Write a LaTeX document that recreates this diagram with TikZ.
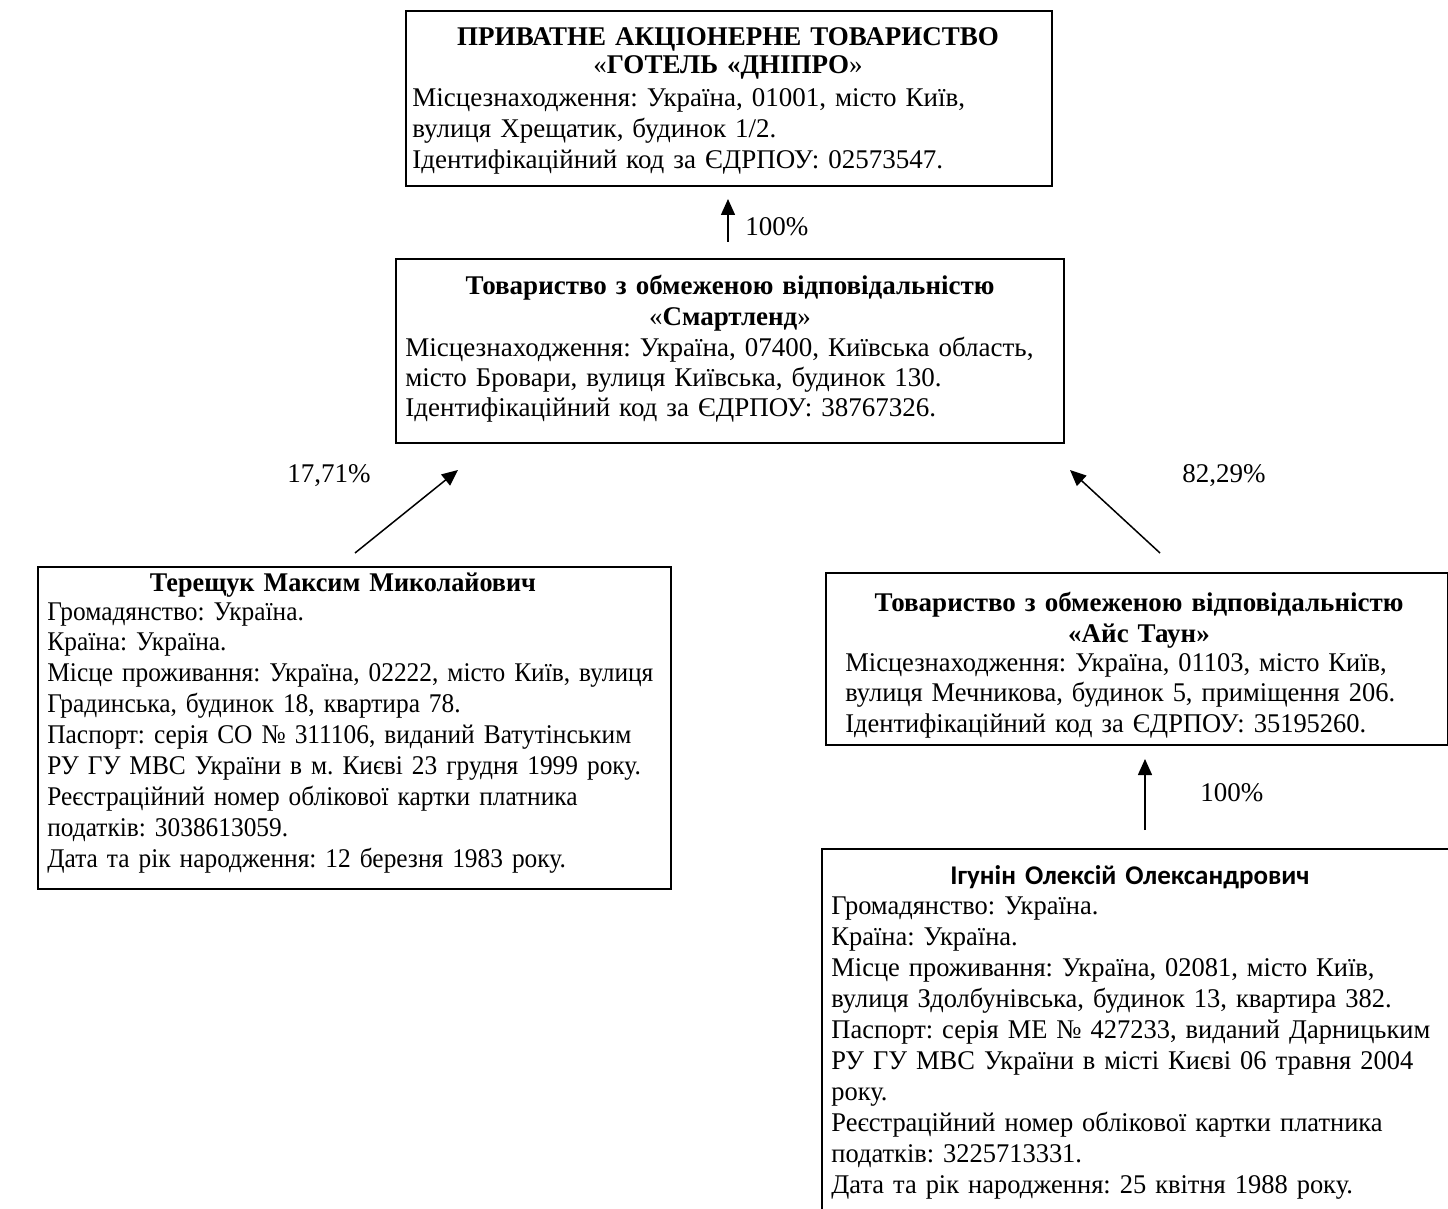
\documentclass[tikz,border=0pt]{standalone}
\usepackage{fontspec}
\setmainfont{Liberation Serif}
\newfontfamily\calibri{Carlito}
\newfontfamily\narrowbody[FakeStretch=0.94]{Liberation Serif}
\newfontfamily\narrowhead[FakeStretch=0.97]{Liberation Serif}
\newfontfamily\slimbody[FakeStretch=0.98]{Liberation Serif}
\usetikzlibrary{arrows.meta,calc}
\begin{document}
\begin{tikzpicture}[x=0.5pt,y=-0.5pt,
  font=\frenchspacing\fontsize{13.5}{15.5}\selectfont,
  frame/.style={draw, line width=1pt, anchor=north west, inner sep=0pt},
  hdr/.style={inner sep=0pt, anchor=base, text width=340pt, align=center},
  body/.style={inner sep=0pt, anchor=base west, text width=340pt, align=left},
  arr/.style={line width=0.75pt, -{Triangle[length=8pt,width=7pt]}},
  pct/.style={inner sep=0pt, anchor=base west}]
\useasboundingbox (0,0) rectangle (1448,1209);

% --- top box
\node[frame, minimum width=323pt, minimum height=87.5pt] (top) at (405,10) {};
\node[hdr, font=\frenchspacing\fontsize{13.5}{14}\selectfont] (toph) at (728,46)
 {\bfseries ПРИВАТНЕ АКЦІОНЕРНЕ ТОВАРИСТВО\\
  \mdseries«\textbf{ГОТЕЛЬ «ДНІПРО}»};
\node[body] (topb) at (412,107)
 {Місцезнаходження: Україна, 01001, місто Київ,\\
  вулиця Хрещатик, будинок 1/2.\\
  Ідентифікаційний код за ЄДРПОУ: 02573547.};

% --- Smartlend
\node[frame, minimum width=334pt, minimum height=92pt] (sm) at (395,258) {};
\node[hdr] (smh) at (730,295)
 {\bfseries Товариство з обмеженою відповідальністю\\
  \mdseries«\textbf{Смартленд}»};
\node[body, font=\frenchspacing\fontsize{13.5}{15}\selectfont] (smb) at (405,357)
 {Місцезнаходження: Україна, 07400, Київська область,\\
  місто Бровари, вулиця Київська, будинок 130.\\
  Ідентифікаційний код за ЄДРПОУ: 38767326.};

% --- Терещук
\node[frame, minimum width=316.5pt, minimum height=161pt] (ter) at (37,566) {};
\node[hdr] (terh) at (343,592) {\narrowhead\bfseries Терещук Максим Миколайович};
\node[body] (terb) at (47,620)
 {\narrowbody Громадянство: Україна.\\
  Країна: Україна.\\
  Місце проживання: Україна, 02222, місто Київ, вулиця\\
  Градинська, будинок 18, квартира 78.\\
  Паспорт: серія СО № 311106, виданий Ватутінським\\
  РУ ГУ МВС України в м. Києві 23 грудня 1999 року.\\
  Реєстраційний номер облікової картки платника\\
  податків: 3038613059.\\
  Дата та рік народження: 12 березня 1983 року.};

% --- Айс Таун
\node[frame, minimum width=311pt, minimum height=86pt] (ice) at (825,572) {};
\node[hdr] (iceh) at (1139,611)
 {\bfseries Товариство з обмеженою відповідальністю\\
  «Айс Таун»};
\node[body] (iceb) at (845,671)
 {\slimbody Місцезнаходження: Україна, 01103, місто Київ,\\
  вулиця Мечникова, будинок 5, приміщення 206.\\
  Ідентифікаційний код за ЄДРПОУ: 35195260.};

% --- Ігунін
\node[frame, minimum width=330pt, minimum height=200pt] (igu) at (821,848) {};
\node[hdr] (iguh) at (1130,884) {\calibri\bfseries Ігунін Олексій Олександрович};
\node[body] (igub) at (831,914)
 {\slimbody Громадянство: Україна.\\
  Країна: Україна.\\
  Місце проживання: Україна, 02081, місто Київ,\\
  вулиця Здолбунівська, будинок 13, квартира 382.\\
  Паспорт: серія МЕ № 427233, виданий Дарницьким\\
  РУ ГУ МВС України в місті Києві 06 травня 2004\\
  року.\\
  Реєстраційний номер облікової картки платника\\
  податків: 3225713331.\\
  Дата та рік народження: 25 квітня 1988 року.};

% --- connectors
\coordinate (a1s) at ($(sm.north west)+(333,-16)$);
\coordinate (a1e) at ($(top.south west)+(323,12)$);
\draw[arr] (a1s) -- (a1e);
\node[pct] (p1) at (745,236) {100\%};

\coordinate (a2s) at ($(ter.north west)+(318,-13)$);
\coordinate (a2e) at ($(sm.south west)+(63,26)$);
\draw[arr] (a2s) -- (a2e);
\node[pct] (p2) at (287,483) {17,71\%};

\coordinate (a3s) at ($(ice.north west)+(335,-19)$);
\coordinate (a3e) at ($(sm.south west)+(675,26)$);
\draw[arr] (a3s) -- (a3e);
\node[pct] (p3) at (1182,483) {82,29\%};

\coordinate (a4s) at ($(igu.north west)+(324,-18)$);
\coordinate (a4e) at ($(ice.south west)+(320,13)$);
\draw[arr] (a4s) -- (a4e);
\node[pct] (p4) at (1200,801) {100\%};
\end{tikzpicture}
\end{document}
